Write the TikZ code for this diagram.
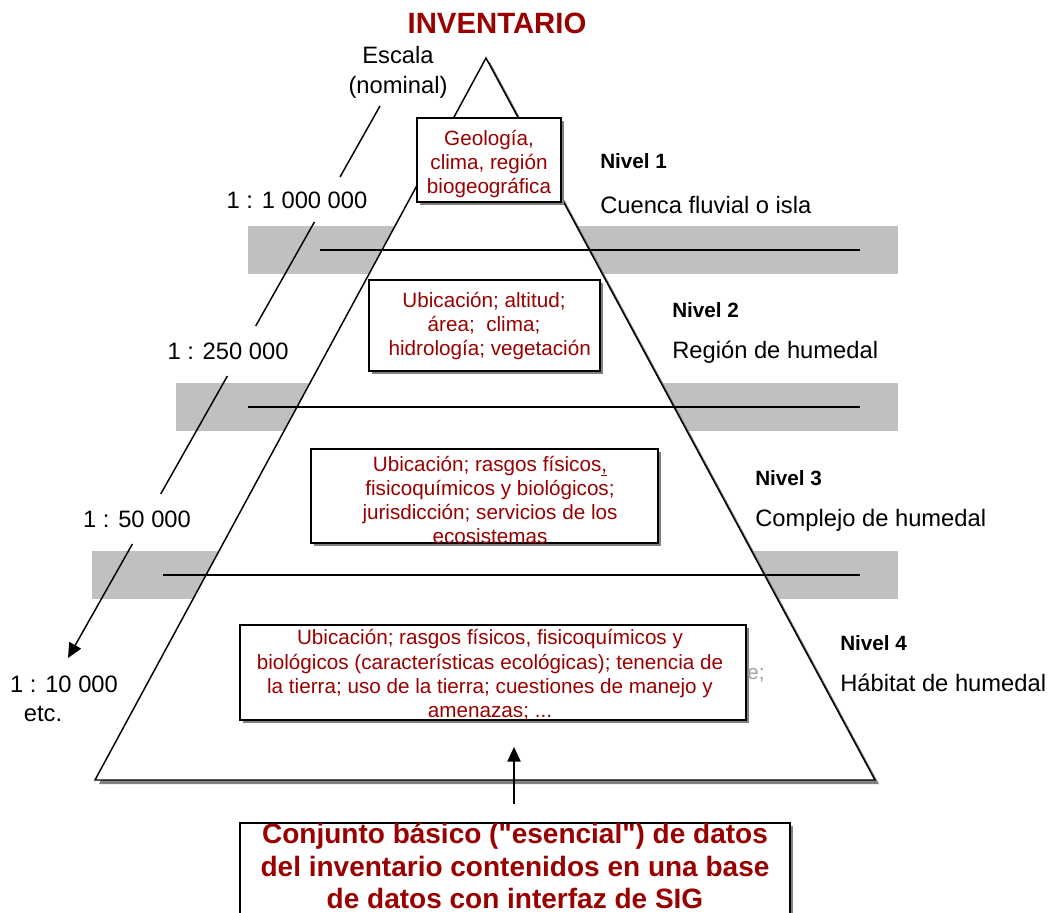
\documentclass[tikz,border=0pt]{standalone}
\usepackage{fontspec}
\setmainfont{Liberation Sans}[Ligatures=TeXOff]
\usetikzlibrary{arrows.meta,shadows,calc}
\definecolor{dred}{RGB}{153,0,0}
\definecolor{bandgray}{RGB}{192,192,192}
\definecolor{shad}{RGB}{128,128,128}
\begin{document}
\begin{tikzpicture}[x=0.75pt,y=-0.75pt,
  lw/.style={line width=1.1pt},
  band/.style={fill=bandgray},
  infobox/.style={draw,lw,fill=white,inner sep=0pt,
    drop shadow={shadow xshift=2.6pt,shadow yshift=-2.6pt,fill=shad,opacity=1}},
  boxtext/.style={text=dred,align=center,inner sep=0pt,
    font=\fontsize{15.5pt}{18.2pt}\selectfont},
  bigtext/.style={text=dred,align=center,inner sep=0pt,
    font=\fontsize{21pt}{24.3pt}\selectfont\bfseries},
  scaletext/.style={inner sep=0pt,align=center,font=\fontsize{17.8pt}{22.5pt}\selectfont},
  niveltext/.style={anchor=west,inner sep=0pt,font=\fontsize{15.5pt}{18pt}\selectfont\bfseries},
  leveltext/.style={anchor=west,inner sep=0pt,font=\fontsize{17.8pt}{21pt}\selectfont},
  tipline/.style={lw,-{Triangle[length=11pt,width=10pt]}}
]
\path[use as bounding box] (0,0) rectangle (1051,913);
\clip (0,0) rectangle (1051,913);

% grey bands
\fill[band] (248,226) rectangle (898,274);
\fill[band] (176,383) rectangle (898,431);
\fill[band] (92,551) rectangle (898,599);

% pyramid
\coordinate (apex) at (486,58);
\coordinate (bl) at (95,780);
\coordinate (br) at (875,780);
\fill[shad] ($(apex)+(4,4)$) -- ($(br)+(4,4)$) -- ($(bl)+(4,4)$) -- cycle;
\draw[lw,fill=white,line join=miter] (apex) -- (br) -- (bl) -- cycle;

% level lines
\coordinate (h1a) at (320,250); \coordinate (h1b) at (860,250);
\coordinate (h2a) at (248,407); \coordinate (h2b) at (860,407);
\coordinate (h3a) at (163,575); \coordinate (h3b) at (860,575);
\draw[lw] (h1a) -- (h1b);
\draw[lw] (h2a) -- (h2b);
\draw[lw] (h3a) -- (h3b);

% boxes
\node[infobox,minimum width=108pt,minimum height=63pt] (b1) at (489,160) {};
\node[infobox,minimum width=173.25pt,minimum height=68.25pt] (b2) at (484.5,325.5) {};
\node[infobox,minimum width=260.25pt,minimum height=70.5pt] (b3) at (484.5,496) {};
\node[infobox,minimum width=379.5pt,minimum height=71.25pt] (b4) at (493,672.5) {};
\node[infobox,minimum width=412.5pt,minimum height=95.25pt] (b5) at (515,886.5) {};

% box texts
\node[boxtext] (t1) at (489,164) {Geología,\\clima, región\\biogeográfica};
\node[boxtext] (t2) at (484,326) {Ubicación; altitud;\\área;\ \ clima;\\\ \ hidrología; vegetación};
\node[boxtext] (t3) at (490,500) {Ubicación; rasgos físicos\underline{,}\\fisicoquímicos y biológicos;\\jurisdicción; servicios de los\\ecosistemas};
\node[boxtext] (t4) at (490,675) {Ubicación; rasgos físicos, fisicoquímicos y\\biológicos (características ecológicas); tenencia de\\la tierra; uso de la tierra; cuestiones de manejo y\\amenazas; ...};
\node[boxtext,text=gray!75] (stray) at (756,675) {e;};
\node[bigtext] (t5) at (515,866) {Conjunto básico ("esencial") de datos\\del inventario contenidos en una base\\de datos con interfaz de SIG};

% title
\node[text=dred,inner sep=0pt,font=\fontsize{22pt}{26pt}\selectfont\bfseries] (title) at (497,23) {INVENTARIO};

% scale labels
\node[scaletext] (esc) at (398,72) {Escala\\(nominal)};
\node[scaletext] (s1) at (297,200) {1 : 1 000 000};
\node[scaletext] (s2) at (228,351) {1 : 250 000};
\node[scaletext] (s3) at (137,519) {1 : 50 000};
\node[scaletext] (s4) at (64,684) {1 : 10 000};
\node[scaletext] (s5) at (43,714) {etc.};

% scale line
\coordinate (l1a) at (380,106);   \coordinate (l1b) at (340,177);
\coordinate (l2a) at (314.4,222); \coordinate (l2b) at (255.7,326);
\coordinate (l3a) at (227.4,376); \coordinate (l3b) at (160.7,494);
\coordinate (l4a) at (132.4,544); \coordinate (l4b) at (68,658);
\draw[lw] (l1a) -- (l1b);
\draw[lw] (l2a) -- (l2b);
\draw[lw] (l3a) -- (l3b);
\draw[tipline] (l4a) -- (l4b);

% level labels
\node[niveltext] (n1) at (600,161) {Nivel 1};
\node[leveltext] (c1) at (600,205) {Cuenca fluvial o isla};
\node[niveltext] (n2) at (672,310) {Nivel 2};
\node[leveltext] (c2) at (672,352) {Región de humedal};
\node[niveltext] (n3) at (755,478) {Nivel 3};
\node[leveltext] (c3) at (755,520) {Complejo de humedal};
\node[niveltext] (n4) at (840,643) {Nivel 4};
\node[leveltext] (c4) at (840,683) {Hábitat de humedal};

% upward arrow
\coordinate (ua) at (514,804);
\coordinate (ub) at (514,747);
\draw[tipline] (ua) -- (ub);
\end{tikzpicture}
\end{document}
